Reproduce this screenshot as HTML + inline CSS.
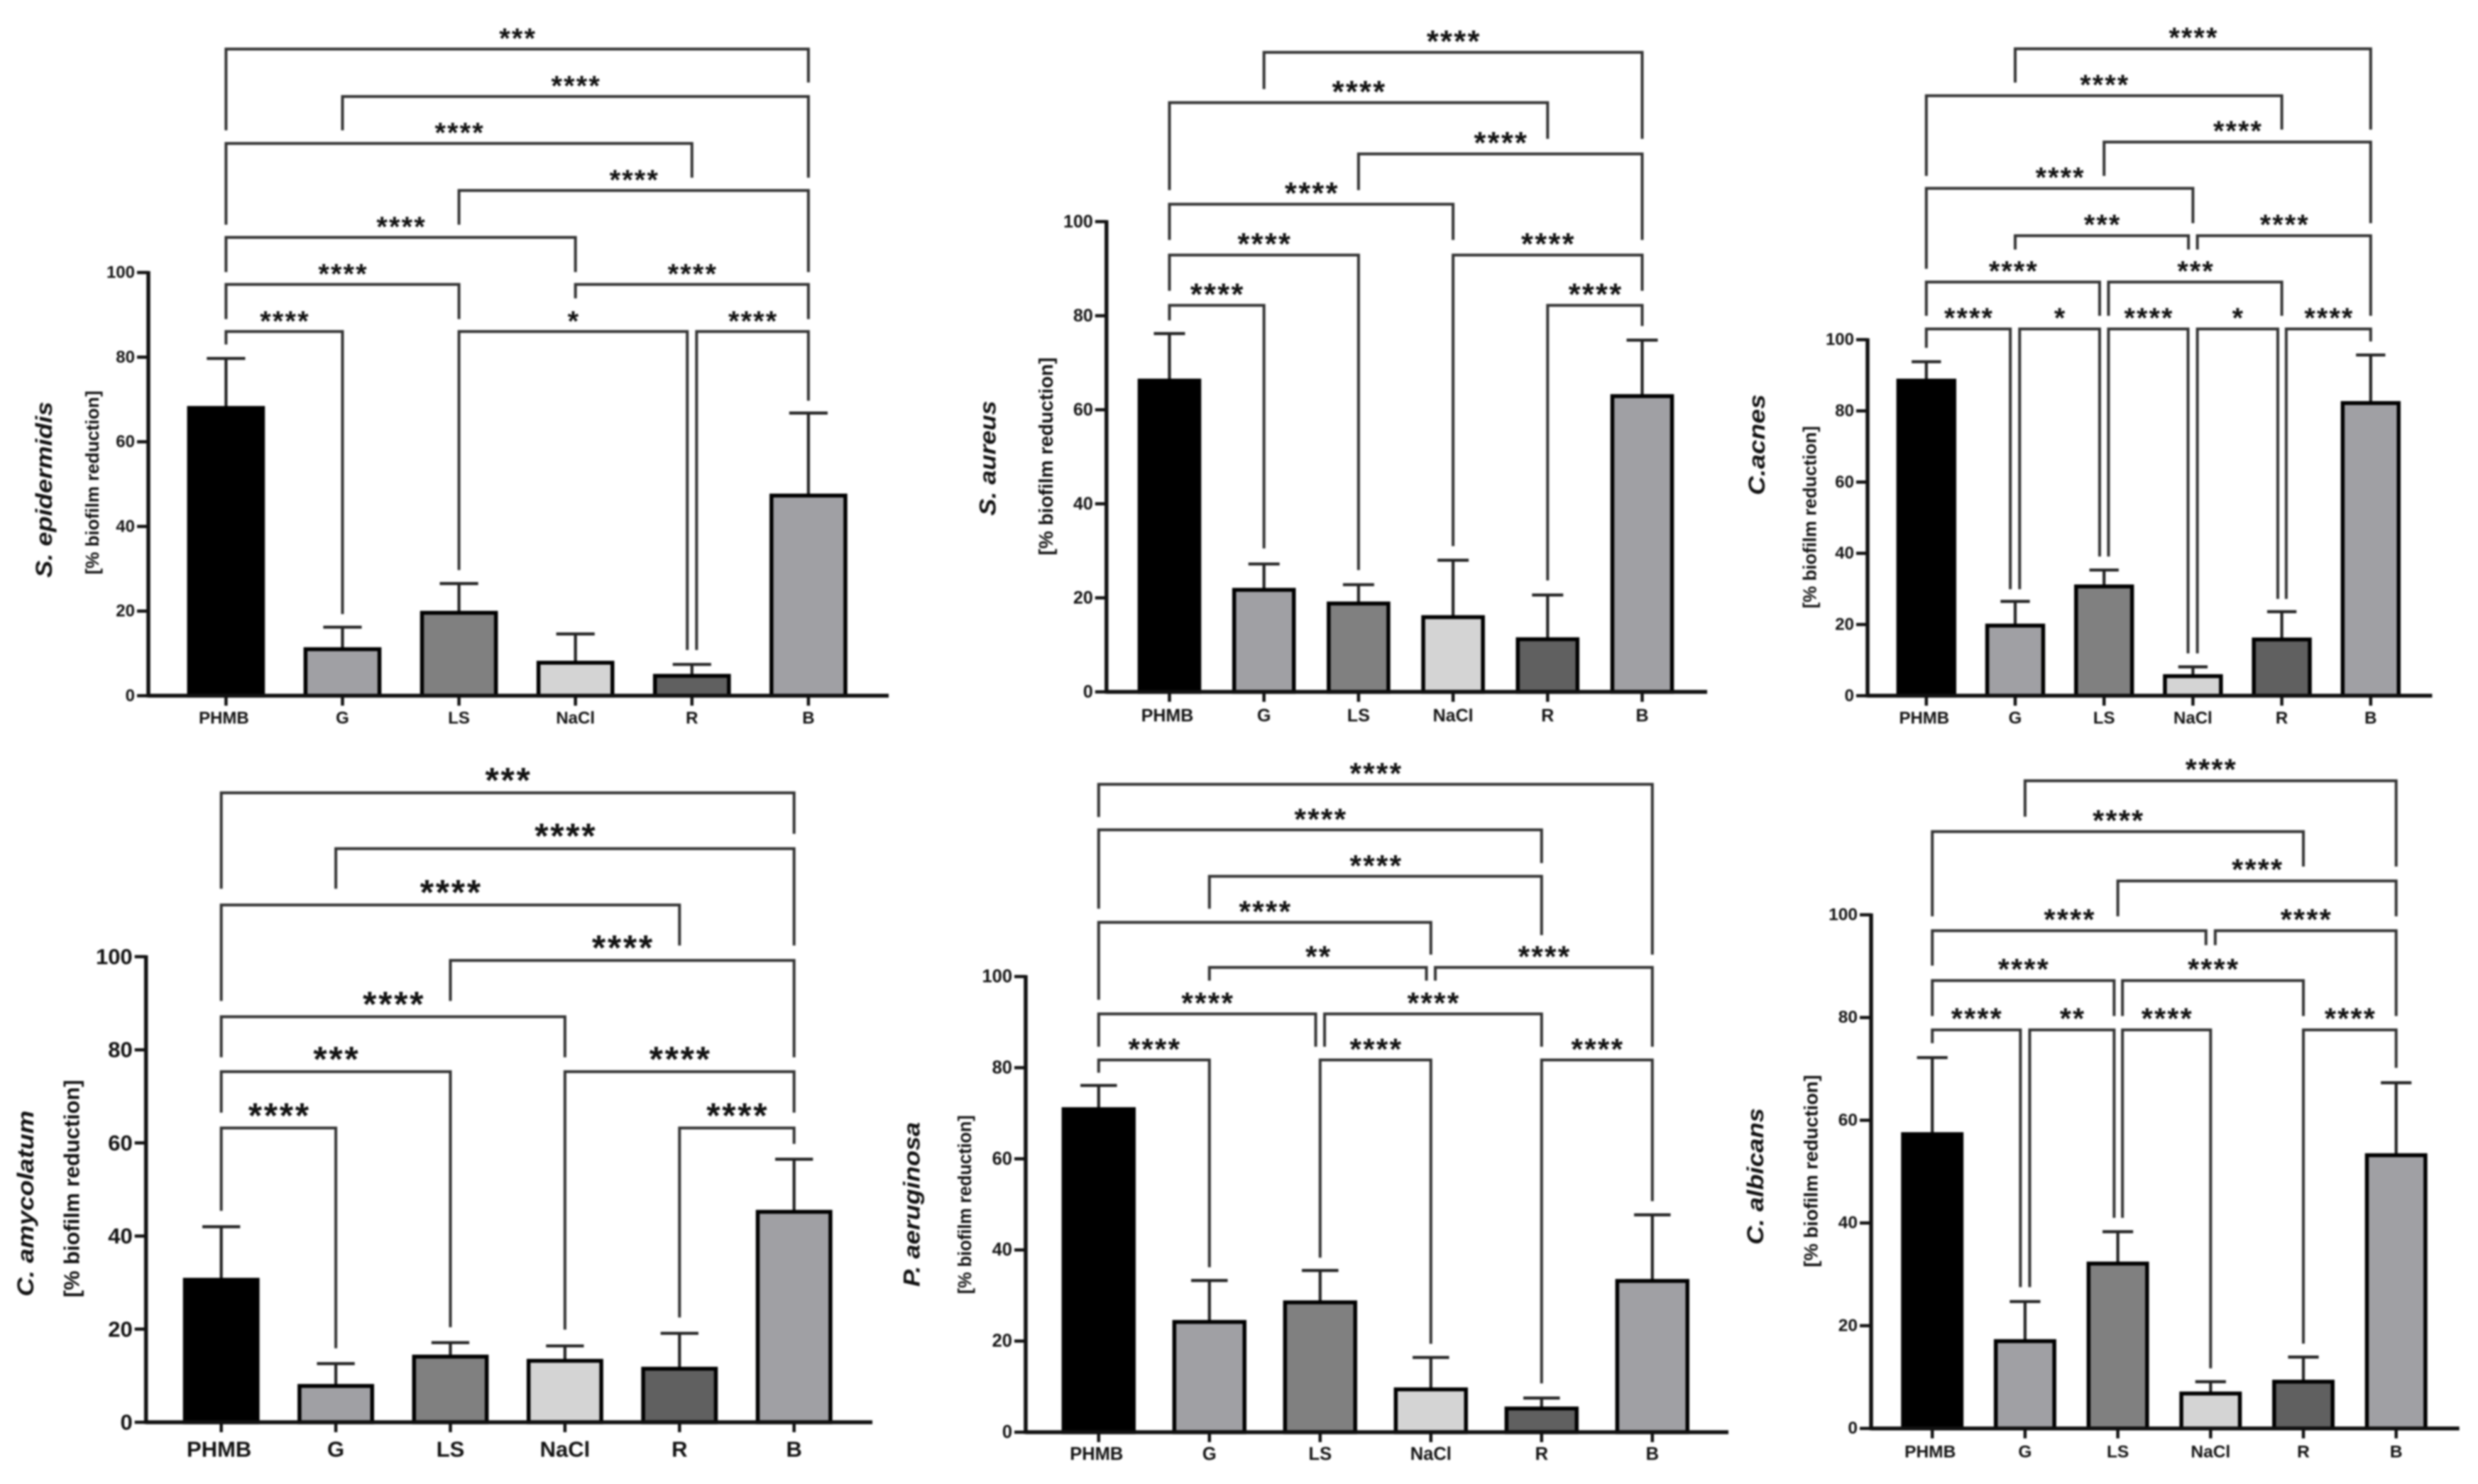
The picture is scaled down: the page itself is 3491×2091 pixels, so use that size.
<!DOCTYPE html>
<html lang="en">
<head>
<meta charset="utf-8">
<title>Biofilm reduction by species</title>
<style>
html,body{margin:0;padding:0;background:#fff;width:3491px;height:2091px;overflow:hidden}
svg{display:block;filter:blur(1.3px)}
text{font-family:"Liberation Sans",sans-serif;fill:#111}
</style>
</head>
<body>
<svg id="figure" xmlns="http://www.w3.org/2000/svg" width="3491" height="2091" viewBox="0 0 3491 2091">
<rect x="0" y="0" width="3491" height="2091" fill="#fff"/>
</svg>
<script>
const categories = ['PHMB', 'G', 'LS', 'NaCl', 'R', 'B'];
const barColors = ['#000000', '#a0a0a4', '#808080', '#d4d4d4', '#606060', '#a0a0a4'];
const yTicks = [0, 20, 40, 60, 80, 100];

const epidermidisMeans = [68, 11, 19.6, 7.8, 4.7, 47.3];
const epidermidisErrorTops = [79.7, 16.2, 26.5, 14.6, 7.4, 66.8];
/* from category, to category, bracket top, left end, right end (all in axis units), significance */
const epidermidisBrackets = [
  [0, 5, 152.8, 133.6, 144.9, '***'],
  [1, 5, 141.6, 133.6, 122.4, '****'],
  [0, 4, 130.5, 111.3, 122.4, '****'],
  [2, 5, 119.4, 111.3, 100.1, '****'],
  [0, 3, 108.3, 100.1, 100.1, '****'],
  [0, 2, 97.2, 89, 89, '****'],
  [3, 5, 97.2, 93.9, 89, '****'],
  [0, 1, 86.05, 83, 19.3, '****'],
  [2, 3.96, 86.05, 29.7, 10.8, '*'],
  [4.04, 5, 86.05, 10.8, 69.7, '****']
];

const aureusMeans = [66.2, 21.7, 18.8, 15.9, 11.2, 62.9];
const aureusErrorTops = [76.2, 27.2, 22.8, 28, 20.6, 74.8];
const aureusBrackets = [
  [1, 5, 136, 128.2, 117.6, '****'],
  [0, 4, 125.3, 106.7, 117.6, '****'],
  [2, 5, 114.4, 106.7, 96.1, '****'],
  [0, 3, 103.7, 96.1, 96.1, '****'],
  [0, 2, 92.9, 85.3, 25.9, '****'],
  [3, 5, 92.9, 31, 85.3, '****'],
  [0, 1, 82.2, 79, 30.5, '****'],
  [4, 5, 82.2, 23.7, 77.8, '****']
];

const acnesMeans = [88.5, 19.7, 30.7, 5.5, 15.8, 82.2];
const acnesErrorTops = [93.8, 26.5, 35.3, 8.1, 23.6, 95.7];
const acnesBrackets = [
  [1, 5, 181.7, 172.2, 159, '****'],
  [0, 4, 168.5, 146, 159, '****'],
  [2, 5, 155.5, 146, 132.7, '****'],
  [0, 3, 142.5, 119.9, 132.7, '****'],
  [1, 2.95, 129.2, 125.3, 125.3, '***'],
  [3.05, 5, 129.2, 125.3, 106.7, '****'],
  [0, 1.95, 116.2, 106.7, 106.7, '****'],
  [2.05, 4, 116.2, 106.7, 106.7, '***'],
  [0, 0.945, 103, 97.7, 29.9, '****'],
  [1.05, 1.95, 103, 29.9, 39.1, '*'],
  [2.05, 2.945, 103, 39.1, 11.9, '****'],
  [3.05, 3.955, 103, 11.9, 27.2, '*'],
  [4.05, 5, 103, 27.2, 99.5, '****']
];

const amycolatumMeans = [30.6, 7.8, 14.1, 13.2, 11.5, 45.2];
const amycolatumErrorTops = [42, 12.6, 17.1, 16.4, 19.1, 56.5];
const amycolatumBrackets = [
  [0, 5, 135.2, 114.6, 126.4, '***'],
  [1, 5, 123.2, 114.6, 102.4, '****'],
  [0, 4, 111.1, 90.5, 102.4, '****'],
  [2, 5, 99.2, 90.5, 78.4, '****'],
  [0, 3, 87.1, 78.4, 78.4, '****'],
  [0, 2, 75.3, 66.5, 20.4, '***'],
  [3, 5, 75.3, 19.9, 66.5, '****'],
  [0, 1, 63.2, 45.4, 15.9, '****'],
  [4, 5, 63.2, 22.5, 59.8, '****']
];

const aeruginosaMeans = [70.9, 24.2, 28.5, 9.4, 5.2, 33.2];
const aeruginosaErrorTops = [76.1, 33.3, 35.5, 16.4, 7.5, 47.7];
const aeruginosaBrackets = [
  [0, 5, 142.2, 135, 104.8, '****'],
  [0, 4, 132.2, 114.9, 124.9, '****'],
  [1, 4, 122, 114.9, 109.1, '****'],
  [0, 3, 111.9, 94.9, 104.8, '****'],
  [1, 2.96, 102, 99.1, 99.1, '**'],
  [3.04, 5, 102, 99.1, 84.6, '****'],
  [0, 1.96, 91.8, 84.6, 84.6, '****'],
  [2.04, 4, 91.8, 84.6, 84.6, '****'],
  [0, 1, 81.7, 78.9, 36.2, '****'],
  [2, 3, 81.7, 38.3, 19.4, '****'],
  [4, 5, 81.7, 10.7, 50.7, '****']
];

const albicansMeans = [57.3, 17, 32.1, 6.8, 9.1, 53.2];
const albicansErrorTops = [72.2, 24.7, 38.3, 9.1, 13.9, 67.3];
const albicansBrackets = [
  [1, 5, 126.1, 119.1, 109.4, '****'],
  [0, 4, 116.2, 99.7, 109.4, '****'],
  [2, 5, 106.6, 99.7, 99.7, '****'],
  [0, 2.95, 96.9, 90.1, 94.1, '****'],
  [3.05, 5, 96.9, 94.1, 80.3, '****'],
  [0, 1.96, 87.2, 80.3, 80.3, '****'],
  [2.05, 4, 87.2, 80.3, 80.3, '****'],
  [0, 0.95, 77.6, 75, 27.5, '****'],
  [1.05, 1.96, 77.6, 27.5, 41, '**'],
  [2.05, 3, 77.6, 41, 11.7, '****'],
  [4, 5, 77.6, 16.5, 70.2, '****']
];

const panels = [
  { key: 's-epidermidis', species: 'S. epidermidis', means: epidermidisMeans, errs: epidermidisErrorTops, brackets: epidermidisBrackets,
    axisX: 209, axisRight: 1252, y0: 980.3, y100: 384, firstX: 318.4, stepX: 164.1, tickFont: 24, labelY: 1012,
    titleX: 130, titleY: 680, titleLen: 259, titleFont: 26, speciesX: 62, speciesY: 690, speciesLen: 248, speciesFont: 32, starGap: 17.6, starRise: 24.5 },
  { key: 's-aureus', species: 'S. aureus', means: aureusMeans, errs: aureusErrorTops, brackets: aureusBrackets,
    axisX: 1558.8, axisRight: 2405, y0: 974.9, y100: 312.3, firstX: 1647.5, stepX: 133.2, tickFont: 25, labelY: 1008.6,
    titleX: 1473.7, titleY: 643, titleLen: 279, titleFont: 28, speciesX: 1391.5, speciesY: 645.6, speciesLen: 162, speciesFont: 32, starGap: 19.2, starRise: 26 },
  { key: 'c-acnes', species: 'C.acnes', means: acnesMeans, errs: acnesErrorTops, brackets: acnesBrackets,
    axisX: 2631, axisRight: 3426.4, y0: 980.3, y100: 478.6, firstX: 2713.8, stepX: 125.2, tickFont: 24, labelY: 1012,
    titleX: 2549.6, titleY: 728.8, titleLen: 257, titleFont: 26, speciesX: 2475, speciesY: 626.7, speciesLen: 142, speciesFont: 32, starGap: 17.5, starRise: 25 },
  { key: 'c-amycolatum', species: 'C. amycolatum', means: amycolatumMeans, errs: amycolatumErrorTops, brackets: amycolatumBrackets,
    axisX: 205.7, axisRight: 1229, y0: 2004, y100: 1348, firstX: 311.7, stepX: 161.4, tickFont: 31, labelY: 2042,
    titleX: 101, titleY: 1674.8, titleLen: 306.7, titleFont: 31, speciesX: 36, speciesY: 1695.7, speciesLen: 262, speciesFont: 32, starGap: 22, starRise: 29.5 },
  { key: 'p-aeruginosa', species: 'P. aeruginosa', means: aeruginosaMeans, errs: aeruginosaErrorTops, brackets: aeruginosaBrackets,
    axisX: 1445, axisRight: 2435, y0: 2018, y100: 1376, firstX: 1547.8, stepX: 156, tickFont: 25.5, labelY: 2049,
    titleX: 1360, titleY: 1697.3, titleLen: 252, titleFont: 25.5, speciesX: 1284.5, speciesY: 1697, speciesLen: 232, speciesFont: 32, starGap: 18.7, starRise: 25 },
  { key: 'c-albicans', species: 'C. albicans', means: albicansMeans, errs: albicansErrorTops, brackets: albicansBrackets,
    axisX: 2636, axisRight: 3464.7, y0: 2012.7, y100: 1289, firstX: 2722.2, stepX: 130.7, tickFont: 24.5, labelY: 2046,
    titleX: 2551.7, titleY: 1650, titleLen: 271, titleFont: 27, speciesX: 2473, speciesY: 1657.5, speciesLen: 192.5, speciesFont: 32, starGap: 18.3, starRise: 25.5 }
];

const SVG_NS = 'http://www.w3.org/2000/svg';
const figure = document.getElementById('figure');

function make(parent, tag, attrs) {
  const node = document.createElementNS(SVG_NS, tag);
  for (const k in attrs) node.setAttribute(k, attrs[k]);
  parent.appendChild(node);
  return node;
}

function drawPanel(p) {
  const xScale = i => p.firstX + i * p.stepX;
  const yScale = v => p.y0 - (v / 100) * (p.y0 - p.y100);
  const barW = p.stepX * 0.65 + 3;
  const capW = p.stepX * 0.33;

  const g = make(figure, 'g', {});
  
  

  // error bars (behind bars)
  p.errs.forEach((top, i) => {
    const err = make(g, 'path', {
      d: 'M' + xScale(i) + ' ' + yScale(p.means[i]) + 'V' + yScale(top) + 'M' + (xScale(i) - capW / 2) + ' ' + yScale(top) + 'H' + (xScale(i) + capW / 2),
      fill: 'none', stroke: '#222', 'stroke-width': 4.2
    });
    
    
  });

  // bars
  p.means.forEach((m, i) => {
    const bar = make(g, 'rect', {
      x: xScale(i) - barW / 2 + 2.75, y: yScale(m), width: barW - 5.5, height: yScale(0) - yScale(m),
      fill: barColors[i], stroke: '#000', 'stroke-width': 5.5
    });
    
    
  });

  // y axis
  const yAxis = make(g, 'line', { x1: p.axisX, x2: p.axisX, y1: yScale(100) - 2, y2: yScale(0) + 2.5, stroke: '#111', 'stroke-width': 5.5 });
  
  

  yTicks.forEach(t => {
    const tick = make(g, 'line', { x1: p.axisX - 16, x2: p.axisX, y1: yScale(t), y2: yScale(t), stroke: '#111', 'stroke-width': 4.5 });
    
    
    const lab = make(g, 'text', { x: p.axisX - 19, y: yScale(t), 'text-anchor': 'end', 'dominant-baseline': 'central', 'font-size': p.tickFont, 'font-weight': 'bold' });
    lab.textContent = String(t);
    
    
  });

  // x axis
  const xAxis = make(g, 'line', { x1: p.axisX, x2: p.axisRight, y1: yScale(0), y2: yScale(0), stroke: '#111', 'stroke-width': 5.5 });
  
  

  categories.forEach((c, i) => {
    const tick = make(g, 'line', { x1: xScale(i), x2: xScale(i), y1: yScale(0), y2: yScale(0) + 14, stroke: '#111', 'stroke-width': 4.5 });
    
    
    const lab = make(g, 'text', { x: xScale(i) - (c === 'PHMB' ? 3 : 0), y: p.labelY, 'text-anchor': 'middle', 'dominant-baseline': 'central', 'font-size': p.tickFont, 'font-weight': 'bold' });
    lab.textContent = c;
    
    
  });

  // axis titles
  const title = make(g, 'text', {
    x: p.titleX, y: p.titleY, transform: 'rotate(-90 ' + p.titleX + ' ' + p.titleY + ')',
    'text-anchor': 'middle', 'dominant-baseline': 'central', 'font-size': p.titleFont, 'font-weight': 'bold',
    textLength: p.titleLen, lengthAdjust: 'spacingAndGlyphs'
  });
  title.textContent = '[% biofilm reduction]';
  
  

  const species = make(g, 'text', {
    x: p.speciesX, y: p.speciesY, transform: 'rotate(-90 ' + p.speciesX + ' ' + p.speciesY + ')',
    'text-anchor': 'middle', 'dominant-baseline': 'central', 'font-size': p.speciesFont, 'font-weight': 'bold', 'font-style': 'italic',
    textLength: p.speciesLen, lengthAdjust: 'spacingAndGlyphs'
  });
  species.textContent = p.species;
  
  

  // significance brackets
  const starFont = p.starGap / 0.389 * 0.88;
  const starSpacing = p.starGap - 0.389 * starFont;
  p.brackets.forEach(b => {
    const xa = xScale(b[0]), xb = xScale(b[1]), top = yScale(b[2]);
    const bracket = make(g, 'path', {
      d: 'M' + xa + ' ' + yScale(b[3]) + 'V' + top + 'H' + xb + 'V' + yScale(b[4]),
      fill: 'none', stroke: '#333', 'stroke-width': 4
    });
    
    
    const star = make(g, 'text', {
      x: (xa + xb) / 2 + starSpacing / 2, y: top - p.starRise + 0.58 * starFont, 'text-anchor': 'middle',
      'font-size': starFont, 'font-weight': 'bold', 'letter-spacing': starSpacing
    });
    star.textContent = b[5];
    
    
  });
}

panels.forEach(drawPanel);
</script>
</body>
</html>
